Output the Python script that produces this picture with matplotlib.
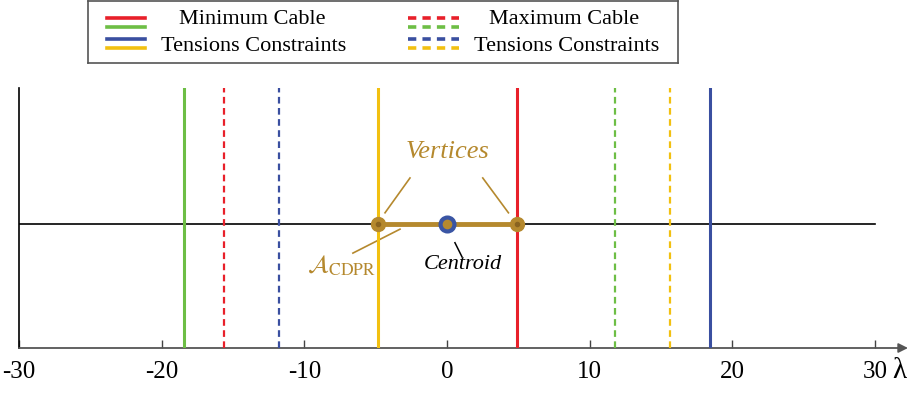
import matplotlib
matplotlib.use("Agg")
import matplotlib.pyplot as plt

plt.rcParams['font.family'] = ['Liberation Serif', 'DejaVu Serif']
plt.rcParams['mathtext.fontset'] = 'stix'

# Data
min_bounds = [-18.43, -4.87, 4.87, 18.43]      # solid lines (minimum cable tension constraints)
min_colors = ['#6DBE45', '#F2C010', '#E8202A', '#3A4FA0']
max_bounds = [-15.6, -11.77, 11.77, 15.6]      # dashed lines (maximum cable tension constraints)
max_colors = ['#E8202A', '#3A4FA0', '#6DBE45', '#F2C010']
vertices = [-4.87, 4.87]
centroid = 0.0
xticks = [-30, -20, -10, 0, 10, 20, 30]
line_y = 0.477

gold = '#B5892E'
blue = '#3A55A4'

fig = plt.figure(figsize=(9.09, 3.94), dpi=100)
ax = fig.add_axes([19/909, 46/394, 889/909, 260/394])
xmin, xmax = -30, 32.3
ax.set_xlim(xmin, xmax)
ax.set_ylim(0, 1)
for s in ['top', 'right', 'bottom']:
    ax.spines[s].set_visible(False)
ax.spines['left'].set_linewidth(1.2)
ax.set_yticks([])
ax.set_xticks(xticks)
ax.set_xticklabels([str(t) for t in xticks], fontsize=18)
ax.tick_params(axis='x', direction='in', length=6, width=1, color='#444444', pad=9)

# bottom axis with arrow
ax.annotate('', xy=(1.0, 0), xytext=(0, 0), xycoords='axes fraction',
            arrowprops=dict(arrowstyle='-|>', color='#555555', lw=1.3,
                            mutation_scale=14, shrinkA=0, shrinkB=0))
ax.text(899/909, 23/394, 'λ', transform=fig.transFigure, fontsize=21,
        ha='center', va='center')

# horizontal line
ax.plot([xmin, 30], [line_y, line_y], color='black', lw=1.2, zorder=2)

for x, c in zip(min_bounds, min_colors):
    ax.plot([x, x], [0, 1], color=c, lw=2.2, zorder=3)
for x, c in zip(max_bounds, max_colors):
    ax.plot([x, x], [0, 1], color=c, lw=1.6, ls=(0, (3, 2)), zorder=3)

# feasible set
ax.plot(vertices, [line_y, line_y], color=gold, lw=3.5, zorder=4)
ax.plot(vertices, [line_y, line_y], 'o', ms=10, color=gold, mec=gold, zorder=5)
ax.plot(vertices, [line_y, line_y], 'o', ms=3, color='#8A6420', zorder=6)
ax.plot([centroid], [line_y], 'o', ms=10, color=gold, mec=blue, mew=3, zorder=6)

# annotations
ax.text(0, 0.754, 'Vertices', color=gold, style='italic', fontsize=19,
        ha='center', va='center')
ax.plot([-2.6, -4.35], [0.654, 0.52], color=gold, lw=1.2)
ax.plot([2.5, 4.3], [0.654, 0.52], color=gold, lw=1.2)
ax.text(-7.39, 0.315, r'$\mathcal{A}_{\mathrm{CDPR}}$', color=gold, fontsize=18,
        ha='center', va='center')
ax.plot([-6.6, -3.3], [0.365, 0.457], color=gold, lw=1.2)
ax.text(1.1, 0.32, 'Centroid', color='black', style='italic', fontsize=16,
        ha='center', va='center')
ax.plot([0.55, 1.05], [0.405, 0.35], color='black', lw=1.1)

# legend box
lax = fig.add_axes([88/909, 1 - 63/394, 590/909, 62/394])
lax.set_xlim(0, 590)
lax.set_ylim(62, 0)
lax.set_xticks([]); lax.set_yticks([])
for s in lax.spines.values():
    s.set_linewidth(1.2)
    s.set_color('#555555')
ys = [16.7, 25.7, 37.7, 46.7]
solid_cols = ['#E8202A', '#6DBE45', '#3A4FA0', '#F2C010']
for y, c in zip(ys, solid_cols):
    lax.plot([19, 57], [y, y], color=c, lw=2.6)
    lax.plot([320, 371], [y, y], color=c, lw=2.6, ls=(0, (2.3, 1.7)))
lax.text(164.5, 18.5, 'Minimum Cable', fontsize=16, ha='center', va='center')
lax.text(166, 45.5, 'Tensions Constraints', fontsize=16, ha='center', va='center')
lax.text(476.5, 18.5, 'Maximum Cable', fontsize=16, ha='center', va='center')
lax.text(479, 45.5, 'Tensions Constraints', fontsize=16, ha='center', va='center')

fig.savefig('out.png', dpi=100)
